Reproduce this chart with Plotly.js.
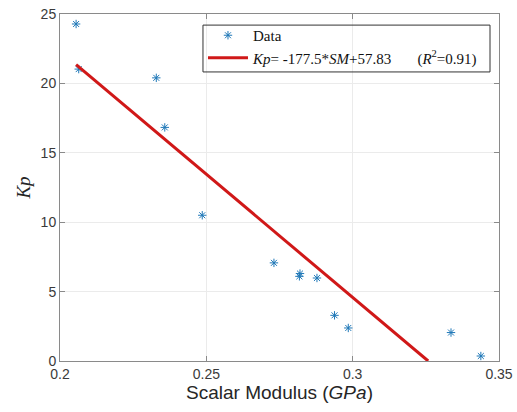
<!DOCTYPE html>
<html>
<head>
<meta charset="utf-8">
<script src="https://cdn.plot.ly/plotly-3.0.1.min.js"></script>
<style>html,body{margin:0;padding:0;background:#fff;}#chart{width:517px;height:412px;}</style>
</head>
<body>
<div id="chart"></div>
<script>
// Measured data (Scalar Modulus in GPa vs Kp)
const smValues = [0.2055, 0.2064, 0.2329, 0.2358, 0.2486, 0.2731, 0.2818, 0.2820, 0.2878, 0.2938, 0.2985, 0.3336, 0.3438];
const kpValues = [24.28, 21.03, 20.40, 16.83, 10.50, 7.07, 6.10, 6.30, 5.98, 3.29, 2.38, 2.05, 0.36];
// Fitted line end points
const fitX = [0.2055, 0.3258];
const fitY = [21.35, 0.0];
const xTicks = [0.2, 0.25, 0.3, 0.35];
const xTickLabels = ['0.2', '0.25', '0.3', '0.35'];
const yTicks = [0, 5, 10, 15, 20, 25];
const yTickLabels = ['0', '5', '10', '15', '20', '25'];
const dataName = 'Data';
const fitName = '<i>Kp</i>= -177.5*<i>SM</i>+57.83&nbsp;&nbsp;&nbsp;&nbsp;&nbsp;&nbsp;&nbsp;(<i>R</i><sup>2</sup>=0.91)';

const traces = [
  {
    x: smValues, y: kpValues, type: 'scatter', mode: 'markers', name: dataName,
    marker: {symbol: 'asterisk-open', size: 7, color: '#1f78b8', line: {color: '#1f78b8', width: 1}}
  },
  {
    x: fitX, y: fitY, type: 'scatter', mode: 'lines', name: fitName,
    line: {color: '#D01818', width: 3}
  }
];

const axisCommon = {
  showline: true, linecolor: '#8a8a8a', linewidth: 1, mirror: 'ticks',
  ticks: 'inside', ticklen: 5, tickcolor: '#8a8a8a',
  showgrid: true, gridcolor: '#ebebeb', gridwidth: 1, zeroline: false,
  tickfont: {family: 'Liberation Sans, Arial, sans-serif', size: 14, color: '#3a3a3a'}
};

const layout = {
  width: 517, height: 412,
  margin: {l: 60, r: 18, t: 14, b: 51},
  paper_bgcolor: '#ffffff', plot_bgcolor: '#ffffff',
  showlegend: true,
  xaxis: Object.assign({}, axisCommon, {
    range: [0.2, 0.35], tickvals: xTicks, ticktext: xTickLabels,
    title: {text: 'Scalar Modulus (<i>GPa</i>)', standoff: 3,
      font: {family: 'Liberation Sans, Arial, sans-serif', size: 19, color: '#262626'}}
  }),
  yaxis: Object.assign({}, axisCommon, {
    range: [0, 25], tickvals: yTicks, ticktext: yTickLabels,
    title: {text: '<i>Kp</i>', standoff: 4,
      font: {family: 'Liberation Serif, Times New Roman, serif', size: 19, color: '#262626'}}
  }),
  shapes: [
    {type: 'rect', xref: 'paper', yref: 'paper', x0: 0.3257, x1: 0.9795, y0: 0.833, y1: 0.968,
     line: {color: '#333333', width: 1}, fillcolor: 'rgba(0,0,0,0)', layer: 'above'}
  ],
  legend: {
    x: 0.3257, y: 0.9856, xanchor: 'left', yanchor: 'top',
    bgcolor: 'rgba(0,0,0,0)', borderwidth: 0,
    font: {family: 'Liberation Serif, Times New Roman, serif', size: 15, color: '#111111'},
    itemwidth: 40, tracegroupgap: 0
  }
};

Plotly.newPlot('chart', traces, layout, {staticPlot: true, displayModeBar: false});
</script>
</body>
</html>
